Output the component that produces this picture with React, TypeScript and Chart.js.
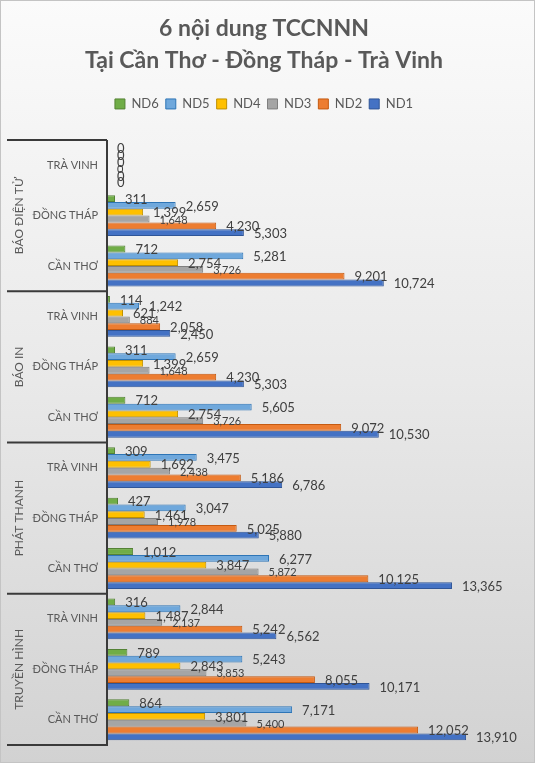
import React, { useRef, useEffect } from "react";
import { Chart, registerables, Plugin } from "chart.js";

Chart.register(...registerables);

const FONT = 'Lato, "Noto Sans", "DejaVu Sans", sans-serif';

// hàng từ trên xuống dưới
const places = [
  "TRÀ VINH", "ĐỒNG THÁP", "CẦN THƠ",
  "TRÀ VINH", "ĐỒNG THÁP", "CẦN THƠ",
  "TRÀ VINH", "ĐỒNG THÁP", "CẦN THƠ",
  "TRÀ VINH", "ĐỒNG THÁP", "CẦN THƠ",
];
const groups = ["BÁO ĐIỆN TỬ", "BÁO IN", "PHÁT THANH", "TRUYỀN HÌNH"];

const nd6 = [0, 311, 712, 114, 311, 712, 309, 427, 1012, 316, 789, 864];
const nd5 = [0, 2659, 5281, 1242, 2659, 5605, 3475, 3047, 6277, 2844, 5243, 7171];
const nd4 = [0, 1399, 2754, 621, 1399, 2754, 1692, 1461, 3847, 1487, 2843, 3801];
const nd3 = [0, 1648, 3726, 884, 1648, 3726, 2438, 1978, 5872, 2137, 3853, 5400];
const nd2 = [0, 4230, 9201, 2058, 4230, 9072, 5186, 5025, 10125, 5242, 8055, 12052];
const nd1 = [0, 5303, 10724, 2450, 5303, 10530, 6786, 5880, 13365, 6562, 10171, 13910];

const series = [
  { label: "ND6", data: nd6, fill: "#70AD47", line: "#548235" },
  { label: "ND5", data: nd5, fill: "#6FA8DC", line: "#2E75B6" },
  { label: "ND4", data: nd4, fill: "#FFC000", line: "#BF9000" },
  { label: "ND3", data: nd3, fill: "#A5A5A5", line: "#7F7F7F" },
  { label: "ND2", data: nd2, fill: "#ED7D31", line: "#C55A11" },
  { label: "ND1", data: nd1, fill: "#4472C4", line: "#2F5597" },
];

const background: Plugin<"bar"> = {
  id: "background",
  beforeDraw(chart) {
    const { ctx, width, height } = chart;
    const g = ctx.createLinearGradient(0, 0, 0, height);
    g.addColorStop(0, "#fbfbfb");
    g.addColorStop(0.5, "#e9e9e9");
    g.addColorStop(1, "#d2d2d2");
    ctx.save();
    ctx.fillStyle = g;
    ctx.fillRect(0, 0, width, height);
    ctx.strokeStyle = "#c4c4c4";
    ctx.lineWidth = 1;
    ctx.strokeRect(0.5, 0.5, width - 1, height - 1);
    ctx.restore();
  },
};

const valueLabels: Plugin<"bar"> = {
  id: "valueLabels",
  afterDatasetsDraw(chart) {
    const { ctx } = chart;
    ctx.save();
    ctx.fillStyle = "#404040";
    ctx.textAlign = "left";
    ctx.textBaseline = "middle";
    chart.data.datasets.forEach((ds, i) => {
      const meta = chart.getDatasetMeta(i);
      ctx.font = (ds.label === "ND3" ? "11px " : "13px ") + FONT;
      meta.data.forEach((bar: any, j) => {
        const v = ds.data[j] as number;
        ctx.fillText(v.toLocaleString("en-US"), bar.x + 10, bar.y + 1);
      });
    });
    ctx.restore();
  },
};

// nhóm ngoài của trục danh mục
const groupAxis: Plugin<"bar"> = {
  id: "groupAxis",
  afterDraw(chart) {
    const { ctx, chartArea } = chart;
    const y = chart.scales.y;
    const step = y.getPixelForValue(1) - y.getPixelForValue(0);
    const left = 7;
    ctx.save();
    ctx.strokeStyle = "#3a3a3a";
    ctx.lineWidth = 2;
    ctx.beginPath();
    ctx.moveTo(chartArea.left, chartArea.top);
    ctx.lineTo(chartArea.left, chartArea.bottom);
    groups.forEach((_, gi) => {
      const yy = y.getPixelForValue(gi * 3) - step / 2;
      ctx.moveTo(left, yy);
      ctx.lineTo(chartArea.left, yy);
    });
    const last = y.getPixelForValue(places.length - 1) + step / 2;
    ctx.moveTo(left, last);
    ctx.lineTo(chartArea.left + 1, last);
    ctx.stroke();

    ctx.fillStyle = "#595959";
    ctx.font = "12px " + FONT;
    ctx.textAlign = "center";
    ctx.textBaseline = "middle";
    groups.forEach((g, gi) => {
      const cy = y.getPixelForValue(gi * 3 + 1);
      ctx.save();
      ctx.translate(19, cy);
      ctx.rotate(-Math.PI / 2);
      ctx.fillText(g, 0, 0);
      ctx.restore();
    });
    ctx.restore();
  },
};

const App: React.FC = () => {
  const chartRef = useRef<HTMLCanvasElement>(null);
  const chartInstance = useRef<Chart | null>(null);

  useEffect(() => {
    if (!chartRef.current) return;
    const ctx = chartRef.current.getContext("2d");
    if (!ctx) return;
    if (chartInstance.current) chartInstance.current.destroy();

    chartInstance.current = new Chart(ctx, {
      type: "bar",
      data: {
        labels: places,
        datasets: series.map((s) => ({
          label: s.label,
          data: s.data,
          backgroundColor: s.fill,
          borderColor: s.line,
          borderWidth: 1,
          categoryPercentage: 0.81,
          barPercentage: 1,
        })),
      },
      options: {
        indexAxis: "y",
        animation: false,
        responsive: false,
        devicePixelRatio: 1,
        layout: { padding: { left: 8, right: 15, top: 0, bottom: 18 } },
        plugins: {
          title: {
            display: true,
            text: ["6 nội dung TCCNNN", "Tại Cần Thơ - Đồng Tháp - Trà Vinh"],
            color: "#595959",
            font: { family: FONT, size: 23, weight: "bold", lineHeight: 1.39 },
            padding: { top: 13, bottom: 13.5 },
          },
          legend: {
            position: "top",
            labels: {
              color: "#595959",
              font: { family: FONT, size: 13 },
              boxWidth: 10,
              boxHeight: 10,
              padding: 7,
            },
          },
          tooltip: { enabled: false },
        },
        scales: {
          x: {
            position: "top",
            min: 0,
            max: 16000,
            grid: { display: false, drawTicks: false },
            border: { display: false },
            ticks: { display: false },
            afterFit: (s) => {
              s.height = 19.5;
            },
          },
          y: {
            grid: { display: false, drawTicks: false },
            border: { display: false },
            ticks: {
              color: "#595959",
              font: { family: FONT, size: 11 },
              padding: 9,
              autoSkip: false,
            },
            afterFit: (s) => {
              s.width = 99;
            },
          },
        },
      },
      plugins: [background, valueLabels, groupAxis],
    });

    return () => {
      if (chartInstance.current) {
        chartInstance.current.destroy();
        chartInstance.current = null;
      }
    };
  }, []);

  return (
    <div style={{ position: "fixed", left: 0, top: 0, width: 535, height: 763 }}>
      <canvas ref={chartRef} width={535} height={763} />
    </div>
  );
};

export default App;
